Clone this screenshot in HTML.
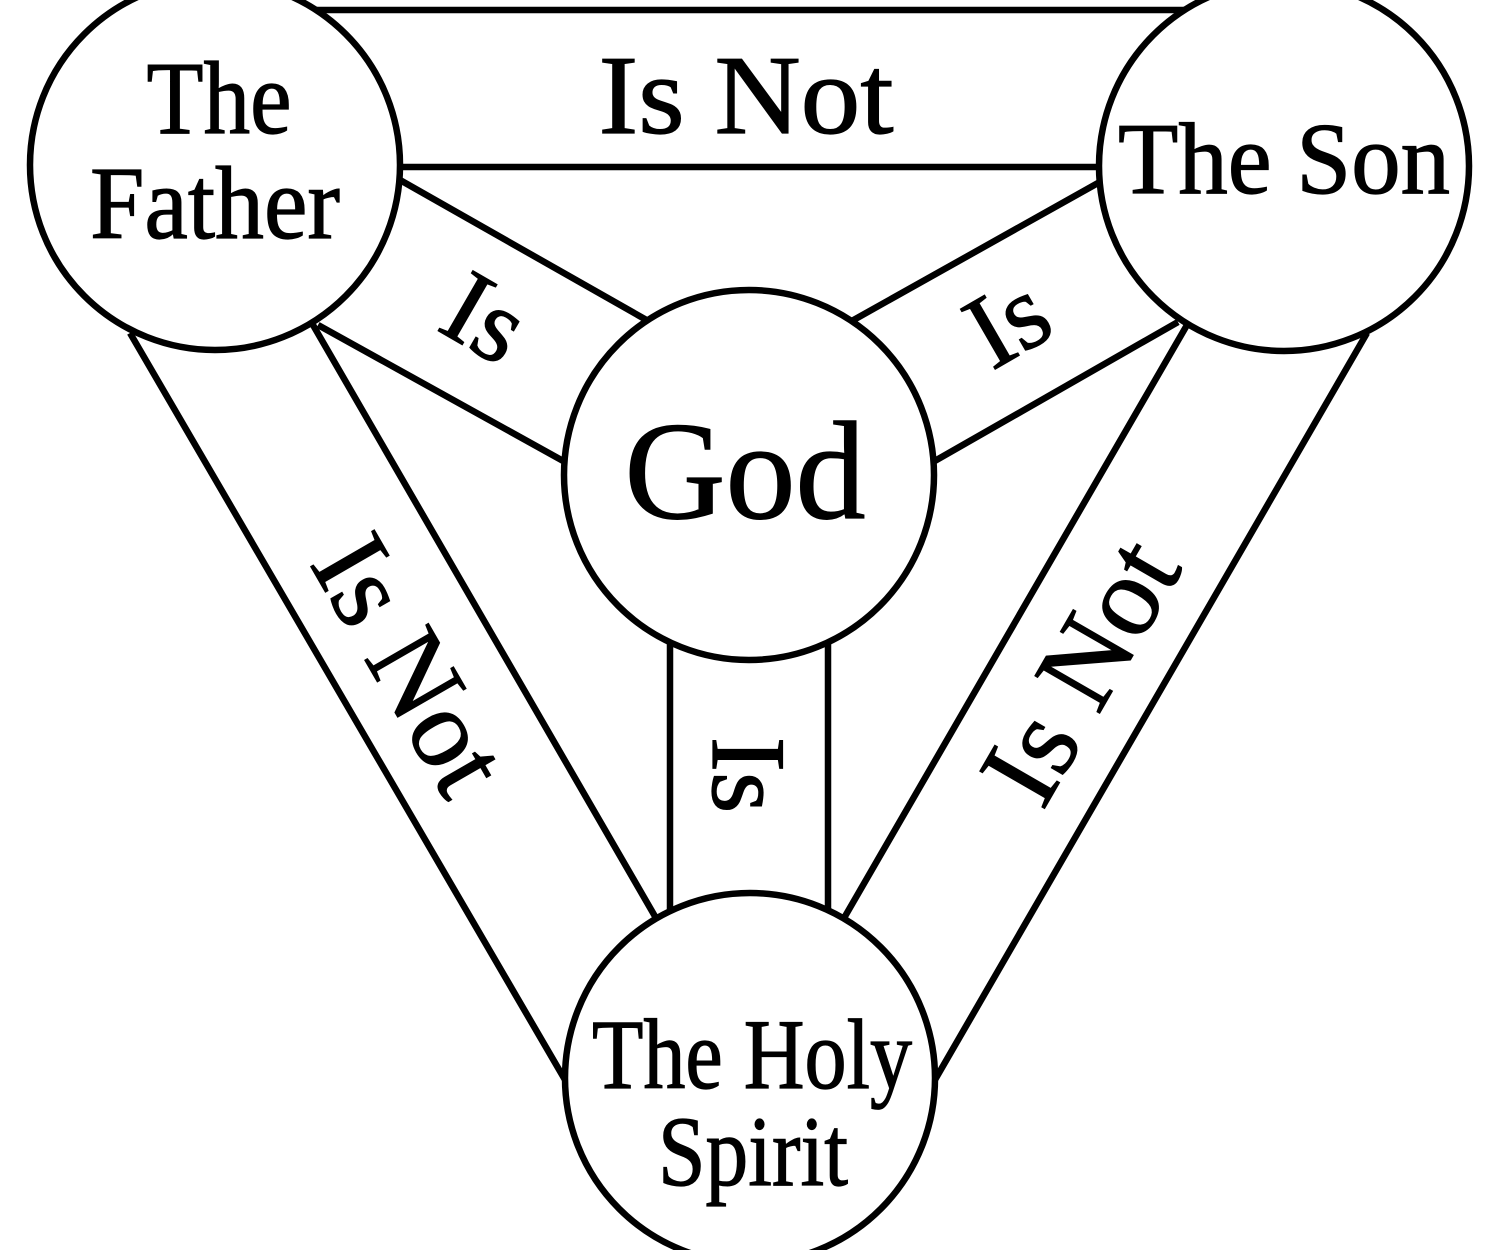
<!DOCTYPE html>
<html><head><meta charset="utf-8"><style>
html,body{margin:0;padding:0;background:#fff;}
svg{display:block;}
text{font-family:"Liberation Serif",serif;fill:#000;stroke:#000;stroke-width:1.2;}
</style></head><body>
<svg width="1500" height="1250" viewBox="0 0 1500 1250" xmlns="http://www.w3.org/2000/svg">
<g stroke="#000" stroke-width="6.5" fill="none" stroke-linecap="butt">
<line x1="300" y1="10" x2="1200" y2="10"/>
<line x1="395" y1="167" x2="1105" y2="167"/>
<line x1="400" y1="180" x2="650" y2="322"/>
<line x1="318" y1="325" x2="565" y2="462"/>
<line x1="1098" y1="183" x2="850" y2="322"/>
<line x1="1178" y1="322" x2="933" y2="462"/>
<line x1="670" y1="640" x2="670" y2="925"/>
<line x1="828" y1="640" x2="828" y2="918"/>
<line x1="130" y1="333" x2="568" y2="1085"/>
<line x1="313" y1="325" x2="660" y2="925"/>
<line x1="1367" y1="333" x2="932" y2="1085"/>
<line x1="1187" y1="325" x2="840" y2="925"/>
</g>
<g stroke="#000" stroke-width="6.5" fill="#fff">
<circle cx="215" cy="165" r="185"/>
<circle cx="1284" cy="166" r="185"/>
<circle cx="749" cy="475" r="185"/>
<circle cx="750" cy="1078" r="185"/>
</g>
<g text-anchor="middle">
<text x="219" y="133" font-size="104" textLength="145" lengthAdjust="spacingAndGlyphs">The</text>
<text x="215" y="238" font-size="104" textLength="250" lengthAdjust="spacingAndGlyphs">Father</text>
<text x="1284" y="193" font-size="102" textLength="332" lengthAdjust="spacingAndGlyphs">The Son</text>
<text x="746" y="133" font-size="112" textLength="295" lengthAdjust="spacingAndGlyphs">Is Not</text>
<text x="745" y="518" font-size="140">God</text>
<text x="752" y="1088" font-size="100" textLength="320" lengthAdjust="spacingAndGlyphs">The Holy</text>
<text x="753" y="1185" font-size="100" textLength="190" lengthAdjust="spacingAndGlyphs">Spirit</text>
<text transform="translate(468,348) rotate(30)" font-size="106">Is</text>
<text transform="translate(1025,352) rotate(-30)" font-size="106">Is</text>
<text transform="translate(713,775) rotate(90)" font-size="106">Is</text>
<text transform="translate(378,683) rotate(60)" font-size="112">Is Not</text>
<text transform="translate(1113,690) rotate(-60)" font-size="114">Is Not</text>
</g>
</svg>
</body></html>
